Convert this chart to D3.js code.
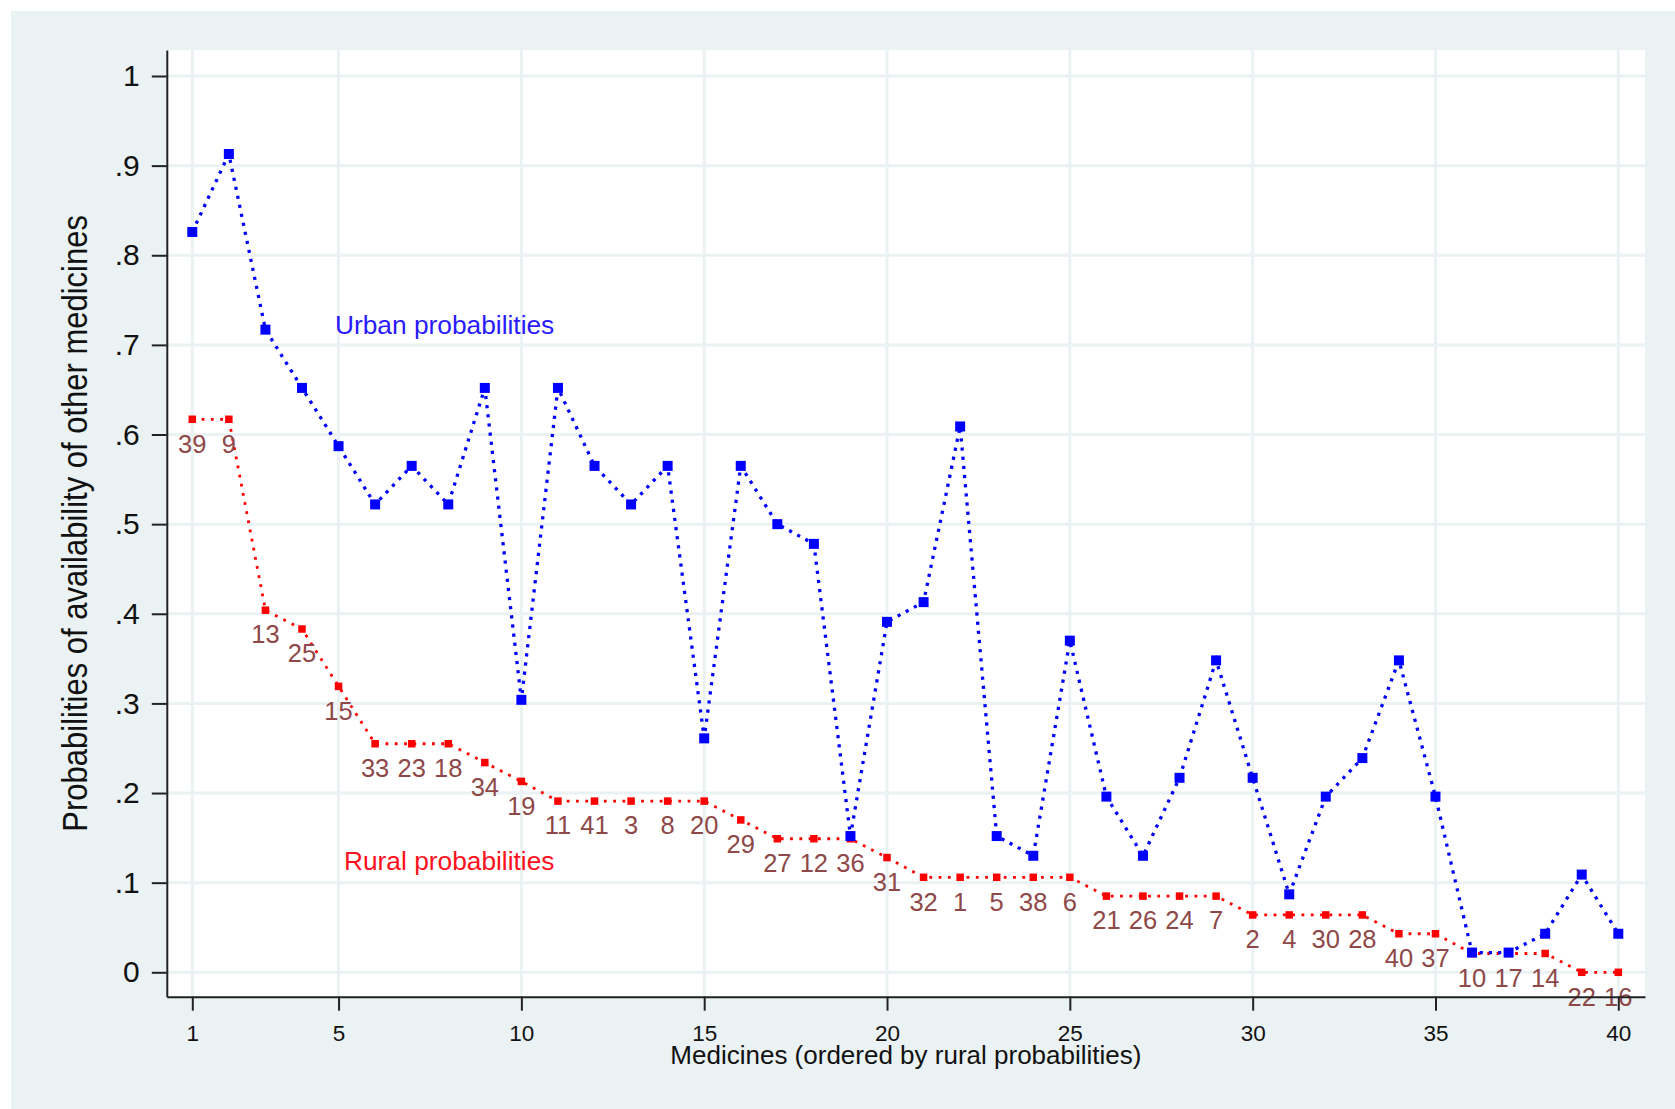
<!DOCTYPE html>
<html><head><meta charset="utf-8">
<script src="https://cdn.jsdelivr.net/npm/d3@7"></script>
<style>body{margin:0;background:#fff}svg{display:block}text{font-family:"Liberation Sans",Arial,sans-serif}</style>
</head><body><svg id="c" width="1675" height="1109"></svg>
<script>
// ---- data ----
const positions = [1,2,3,4,5,6,7,8,9,10,11,12,13,14,15,16,17,18,19,20,21,22,23,24,25,26,27,28,29,30,31,32,33,34,35,36,37,38,39,40];
const medicineIds = [39,9,13,25,15,33,23,18,34,19,11,41,3,8,20,29,27,12,36,31,32,1,5,38,6,21,26,24,7,2,4,30,28,40,37,10,17,14,22,16];
const urbanProb = [0.826,0.913,0.717,0.652,0.587,0.522,0.565,0.522,0.652,0.304,0.652,0.565,0.522,0.565,0.261,0.565,0.500,0.478,0.152,0.391,0.413,0.609,0.152,0.130,0.370,0.196,0.130,0.217,0.348,0.217,0.087,0.196,0.239,0.348,0.196,0.022,0.022,0.043,0.109,0.043];
const ruralProb = [0.617,0.617,0.404,0.383,0.319,0.255,0.255,0.255,0.234,0.213,0.191,0.191,0.191,0.191,0.191,0.170,0.149,0.149,0.149,0.128,0.106,0.106,0.106,0.106,0.106,0.085,0.085,0.085,0.085,0.064,0.064,0.064,0.064,0.043,0.043,0.021,0.021,0.021,0,0];
const xTicks = [1,5,10,15,20,25,30,35,40];
const yTicks = [0,0.1,0.2,0.3,0.4,0.5,0.6,0.7,0.8,0.9,1];
const yTickLabels = ["0",".1",".2",".3",".4",".5",".6",".7",".8",".9","1"];
const xTitle = "Medicines (ordered by rural probabilities)";
const yTitle = "Probabilities of availability of other medicines";
const urbanText = "Urban probabilities";
const ruralText = "Rural probabilities";

// ---- layout ----
const W = 1675, H = 1109;
const plot = {left:166.8, right:1645, top:50, bottom:996.7};
const bg = "#eaf2f3";

const x0 = d3.scaleLinear().domain([1,40]).range([192.3,1618.3]);
const y0 = d3.scaleLinear().domain([0,1]).range([972.3,76]);
const x = x0.copy().domain([x0.invert(plot.left), x0.invert(plot.right)]).range([plot.left, plot.right]);
const y = y0.copy().domain([y0.invert(plot.bottom), y0.invert(plot.top)]).range([plot.bottom, plot.top]);

const svg = d3.select("#c");
svg.append("rect").attr("x",11).attr("y",11).attr("width",W-11).attr("height",H-11).attr("fill",bg);
svg.append("rect").attr("x",plot.left).attr("y",plot.top).attr("width",plot.right-plot.left).attr("height",plot.bottom-plot.top).attr("fill","#fff");

// gridlines
svg.append("g").selectAll("line").data(yTicks).join("line")
  .attr("x1",plot.left).attr("x2",plot.right).attr("y1",d=>y(d)).attr("y2",d=>y(d))
  .attr("stroke",bg).attr("stroke-width",3);
svg.append("g").selectAll("line").data(xTicks).join("line")
  .attr("y1",plot.top).attr("y2",plot.bottom).attr("x1",d=>x(d)).attr("x2",d=>x(d))
  .attr("stroke",bg).attr("stroke-width",3);

// rural series
const rural = positions.map((p,i)=>({p, v:ruralProb[i], id:medicineIds[i]}));
const urban = positions.map((p,i)=>({p, v:urbanProb[i]}));
const line = d3.line().x(d=>x(d.p)).y(d=>y(d.v));

svg.append("path").datum(rural).attr("d",line).attr("fill","none")
  .attr("stroke","#ff0000").attr("stroke-width",2.8).attr("stroke-dasharray","2.8,6.5");
svg.append("g").selectAll("rect").data(rural).join("rect")
  .attr("x",d=>x(d.p)-3.75).attr("y",d=>y(d.v)-3.75).attr("width",7.5).attr("height",7.5).attr("fill","#ff0000");

// urban series
svg.append("path").datum(urban).attr("d",line).attr("fill","none")
  .attr("stroke","#0000ff").attr("stroke-width",3.3).attr("stroke-dasharray","3.2,6");
svg.append("g").selectAll("rect").data(urban).join("rect")
  .attr("x",d=>x(d.p)-5).attr("y",d=>y(d.v)-5).attr("width",10).attr("height",10).attr("fill","#0000ff");

// marker labels
svg.append("g").selectAll("text").data(rural).join("text")
  .attr("x",d=>x(d.p)).attr("y",d=>y(d.v)+33.3).attr("text-anchor","middle")
  .attr("font-size",25.5).attr("fill","#8e4848").text(d=>d.id);

// series texts
svg.append("text").attr("x",335).attr("y",334.3).attr("font-size",26.3).attr("fill","#2a1aff").text(urbanText);
svg.append("text").attr("x",344).attr("y",870).attr("font-size",26.3).attr("fill","#ff1020").text(ruralText);

// axes
const yAxis = d3.axisLeft(y).tickValues(yTicks).tickFormat((d,i)=>yTickLabels[i]).tickSize(15).tickSizeOuter(0).tickPadding(12);
const gy = svg.append("g").attr("transform",`translate(${plot.left},0)`).call(yAxis);
gy.selectAll("text").attr("font-size",30).attr("fill","#111").style("font-family",'"Liberation Sans",Arial,sans-serif');
gy.selectAll("line,path").attr("stroke","#222").attr("stroke-width",2);

const xAxis = d3.axisBottom(x).tickValues(xTicks).tickSize(14).tickSizeOuter(0).tickPadding(14);
const gx = svg.append("g").attr("transform",`translate(0,${plot.bottom})`).call(xAxis);
gx.selectAll("text").attr("font-size",22.5).attr("fill","#111").style("font-family",'"Liberation Sans",Arial,sans-serif');
gx.selectAll("line,path").attr("stroke","#222").attr("stroke-width",2);

// axis titles
svg.append("text").attr("x",(plot.left+plot.right)/2).attr("y",1063.5).attr("text-anchor","middle")
  .attr("font-size",26).attr("fill","#111").text(xTitle);
svg.append("text").attr("transform",`translate(87,${(plot.top+plot.bottom)/2}) rotate(-90) scale(1,1.15)`)
  .attr("text-anchor","middle").attr("font-size",31).attr("fill","#111").text(yTitle);
</script></body></html>
